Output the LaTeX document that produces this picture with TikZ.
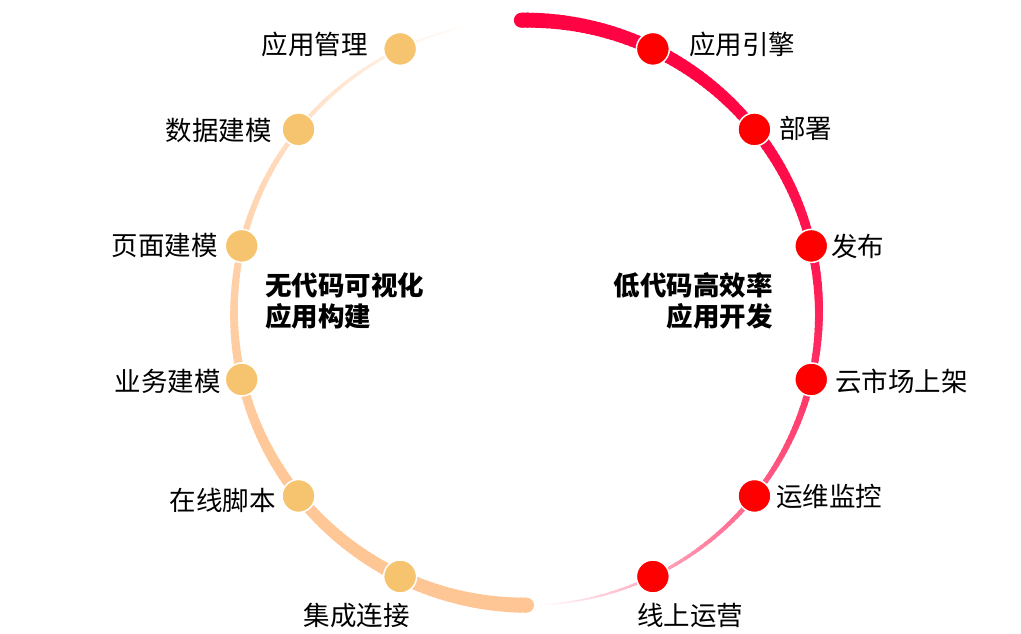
\documentclass[tikz,border=0pt]{standalone}
\usepackage{fontspec}
\newfontfamily\cjk{Noto Sans CJK SC}
\definecolor{crim}{HTML}{FF0040}
\definecolor{peach}{HTML}{FFC594}
\definecolor{dotred}{HTML}{FF0000}
\definecolor{dotor}{HTML}{F6C46E}
\tikzset{
  dotR/.style={circle,fill=dotred,draw=white,line width=1.5pt,minimum size=33pt,inner sep=0pt},
  dotO/.style={circle,fill=dotor,draw=white,line width=1.5pt,minimum size=33pt,inner sep=0pt},
  lab/.style={inner sep=0pt,font=\cjk\fontsize{26.5}{30}\selectfont,text=black},
  head/.style={inner sep=0pt,font=\cjk\bfseries\fontsize{26.5}{31}\selectfont,text=black},
}
\begin{document}
\begin{tikzpicture}[x=1pt,y=1pt]
\useasboundingbox (0,0) rectangle (1021,634);
\fill[white] (0,0) rectangle (1021,634);
\coordinate (C) at (526.5,321.3);
% right arc: thick crimson at top, fading thin at bottom
\fill[crim] (C) ++(91:292.5) circle[radius=7.5];
\foreach \i in {0,...,178}{
  \pgfmathsetmacro\t{\i/178}
  \pgfmathsetmacro\a{91-\i}
  \pgfmathsetmacro\b{\a-1.4}
  \pgfmathsetmacro\w{15-14*\t}
  \pgfmathtruncatemacro\p{100*(1-\t^3)}
  \draw[line width=\w pt, crim!\p!white] (C) ++(\a:292.5) arc[start angle=\a, end angle=\b, radius=292.5];
}
% left arc: thick peach at bottom, fading thin at top
\fill[peach] (C) ++(270:292.5) circle[radius=7.5];
\foreach \i in {0,...,169}{
  \pgfmathsetmacro\s{\i/169}
  \pgfmathsetmacro\a{270-\i}
  \pgfmathsetmacro\b{\a-1.4}
  \pgfmathsetmacro\w{15-14*\s}
  \pgfmathtruncatemacro\p{100*(1-\s^3)}
  \draw[line width=\w pt, peach!\p!white] (C) ++(\a:292.5) arc[start angle=\a, end angle=\b, radius=292.5];
}
% dots
\path (C) ++(64.4:292.5) node[dotR] (r1) {};
\path (C) ++(38.8:292.5) node[dotR] (r2) {};
\path (C) ++(13.2:292.5) node[dotR] (r3) {};
\path (C) ++(-13.2:292.5) node[dotR] (r4) {};
\path (C) ++(-38.8:292.5) node[dotR] (r5) {};
\path (C) ++(-64.4:292.5) node[dotR] (r6) {};
\path (C) ++(115.6:292.5) node[dotO] (o1) {};
\path (C) ++(141.2:292.5) node[dotO] (o2) {};
\path (C) ++(166.8:292.5) node[dotO] (o3) {};
\path (C) ++(193.2:292.5) node[dotO] (o4) {};
\path (C) ++(218.8:292.5) node[dotO] (o5) {};
\path (C) ++(244.4:292.5) node[dotO] (o6) {};
% labels right
\node[lab,anchor=west] (tr1) at (689,590) {应用引擎};
\node[lab,anchor=west] (tr2) at (779,506) {部署};
\node[lab,anchor=west] (tr3) at (831,388) {发布};
\node[lab,anchor=west] (tr4) at (835,253) {云市场上架};
\node[lab,anchor=west] (tr5) at (776,138) {运维监控};
\node[lab,anchor=west] (tr6) at (637,19) {线上运营};
% labels left
\node[lab,anchor=east] (tl1) at (368,590) {应用管理};
\node[lab,anchor=east] (tl2) at (272,504) {数据建模};
\node[lab,anchor=east] (tl3) at (218,389) {页面建模};
\node[lab,anchor=east] (tl4) at (221,253) {业务建模};
\node[lab,anchor=east] (tl5) at (276,134) {在线脚本};
\node[lab,anchor=east] (tl6) at (410,19) {集成连接};
% headings
\node[head,anchor=west,align=left] (hl) at (265,333.5) {无代码可视化\\应用构建};
\node[head,anchor=east,align=right] (hr) at (773,333.5) {低代码高效率\\应用开发};
\end{tikzpicture}
\end{document}
